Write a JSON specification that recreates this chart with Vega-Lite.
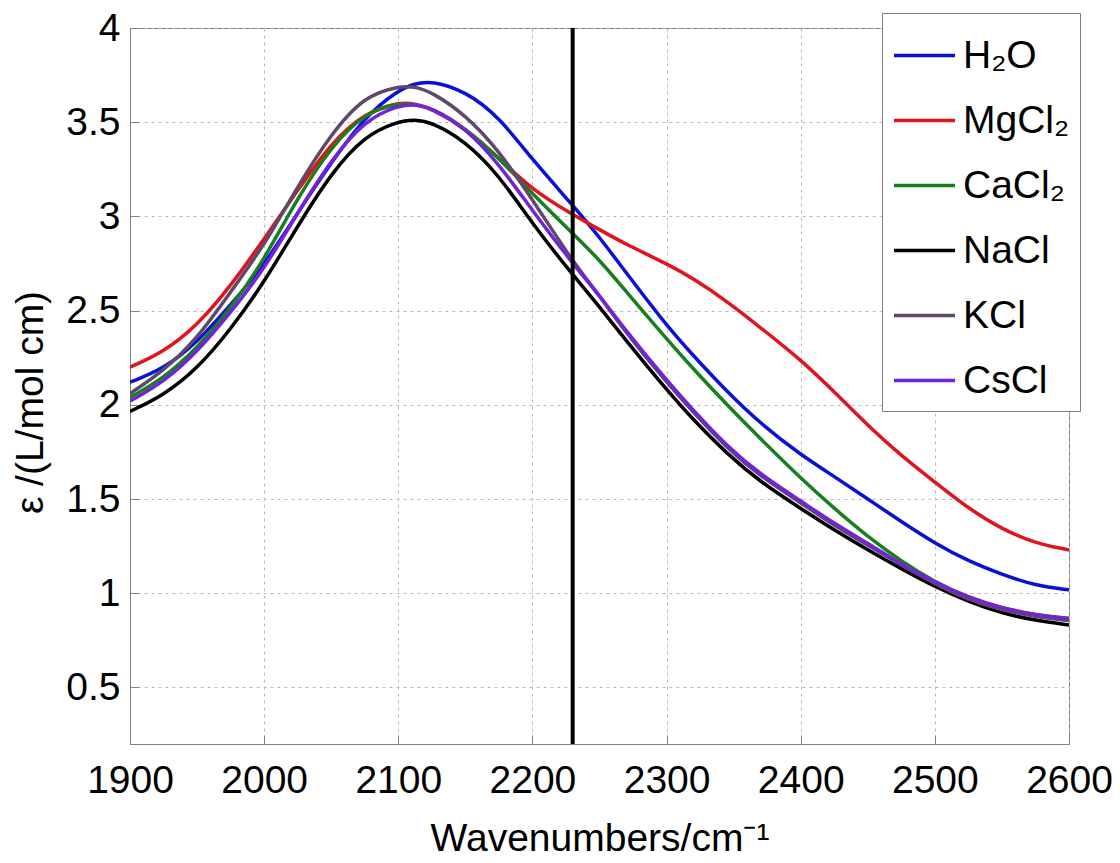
{
  "$schema": "https://vega.github.io/schema/vega-lite/v6.json",
  "autosize": {"type": "none"},
  "width": 939,
  "height": 716,
  "padding": {"left": 130, "top": 28, "right": 51, "bottom": 119},
  "background": "white",
  "config": {
    "font": "Liberation Sans",
    "view": {"stroke": "#808080", "strokeWidth": 1},
    "axis": {
      "labelFont": "Liberation Sans",
      "titleFont": "Liberation Sans",
      "labelColor": "#000000",
      "titleColor": "#000000",
      "labelFontSize": 39,
      "titleFontSize": 39,
      "titleFontWeight": "normal",
      "domainColor": "#808080",
      "tickColor": "#808080",
      "tickSize": -9,
      "labelFlush": false,
      "labelOverlap": false,
      "grid": true,
      "gridColor": "#b8b8b8",
      "gridDash": [3, 4],
      "gridWidth": 1
    },
    "legend": {
      "labelFont": "Liberation Sans",
      "labelFontSize": 39,
      "labelColor": "#000000"
    }
  },
  "datasets": {
    "spectra": [
      {"s":"H₂O","x":1900,"y":2.12},{"s":"H₂O","x":1925,"y":2.19},{"s":"H₂O","x":1950,"y":2.33},{"s":"H₂O","x":1975,"y":2.53},{"s":"H₂O","x":2000,"y":2.74},{"s":"H₂O","x":2025,"y":3.02},{"s":"H₂O","x":2050,"y":3.285},{"s":"H₂O","x":2075,"y":3.53},{"s":"H₂O","x":2100,"y":3.67},{"s":"H₂O","x":2112,"y":3.705},{"s":"H₂O","x":2125,"y":3.72},{"s":"H₂O","x":2150,"y":3.665},{"s":"H₂O","x":2175,"y":3.53},{"s":"H₂O","x":2200,"y":3.3},{"s":"H₂O","x":2230,"y":3.06},{"s":"H₂O","x":2250,"y":2.89},{"s":"H₂O","x":2270,"y":2.7},{"s":"H₂O","x":2300,"y":2.42},{"s":"H₂O","x":2320,"y":2.26},{"s":"H₂O","x":2345,"y":2.07},{"s":"H₂O","x":2370,"y":1.9},{"s":"H₂O","x":2400,"y":1.735},{"s":"H₂O","x":2425,"y":1.62},{"s":"H₂O","x":2450,"y":1.5},{"s":"H₂O","x":2475,"y":1.38},{"s":"H₂O","x":2500,"y":1.265},{"s":"H₂O","x":2525,"y":1.17},{"s":"H₂O","x":2550,"y":1.1},{"s":"H₂O","x":2575,"y":1.04},{"s":"H₂O","x":2600,"y":1.018},
      {"s":"MgCl₂","x":1900,"y":2.2},{"s":"MgCl₂","x":1925,"y":2.28},{"s":"MgCl₂","x":1950,"y":2.42},{"s":"MgCl₂","x":1975,"y":2.63},{"s":"MgCl₂","x":2000,"y":2.88},{"s":"MgCl₂","x":2025,"y":3.14},{"s":"MgCl₂","x":2050,"y":3.39},{"s":"MgCl₂","x":2075,"y":3.55},{"s":"MgCl₂","x":2100,"y":3.605},{"s":"MgCl₂","x":2112,"y":3.6},{"s":"MgCl₂","x":2125,"y":3.57},{"s":"MgCl₂","x":2150,"y":3.47},{"s":"MgCl₂","x":2175,"y":3.31},{"s":"MgCl₂","x":2200,"y":3.14},{"s":"MgCl₂","x":2230,"y":3.01},{"s":"MgCl₂","x":2250,"y":2.93},{"s":"MgCl₂","x":2270,"y":2.85},{"s":"MgCl₂","x":2300,"y":2.75},{"s":"MgCl₂","x":2320,"y":2.67},{"s":"MgCl₂","x":2345,"y":2.55},{"s":"MgCl₂","x":2370,"y":2.41},{"s":"MgCl₂","x":2400,"y":2.24},{"s":"MgCl₂","x":2425,"y":2.07},{"s":"MgCl₂","x":2450,"y":1.89},{"s":"MgCl₂","x":2475,"y":1.73},{"s":"MgCl₂","x":2500,"y":1.59},{"s":"MgCl₂","x":2525,"y":1.45},{"s":"MgCl₂","x":2550,"y":1.34},{"s":"MgCl₂","x":2575,"y":1.265},{"s":"MgCl₂","x":2600,"y":1.23},
      {"s":"CaCl₂","x":1900,"y":2.04},{"s":"CaCl₂","x":1925,"y":2.14},{"s":"CaCl₂","x":1950,"y":2.3},{"s":"CaCl₂","x":1975,"y":2.51},{"s":"CaCl₂","x":2000,"y":2.77},{"s":"CaCl₂","x":2025,"y":3.1},{"s":"CaCl₂","x":2050,"y":3.37},{"s":"CaCl₂","x":2075,"y":3.55},{"s":"CaCl₂","x":2100,"y":3.6},{"s":"CaCl₂","x":2112,"y":3.595},{"s":"CaCl₂","x":2125,"y":3.576},{"s":"CaCl₂","x":2150,"y":3.47},{"s":"CaCl₂","x":2175,"y":3.31},{"s":"CaCl₂","x":2200,"y":3.12},{"s":"CaCl₂","x":2230,"y":2.91},{"s":"CaCl₂","x":2250,"y":2.77},{"s":"CaCl₂","x":2270,"y":2.6},{"s":"CaCl₂","x":2300,"y":2.35},{"s":"CaCl₂","x":2320,"y":2.19},{"s":"CaCl₂","x":2345,"y":2.0},{"s":"CaCl₂","x":2370,"y":1.82},{"s":"CaCl₂","x":2400,"y":1.61},{"s":"CaCl₂","x":2425,"y":1.45},{"s":"CaCl₂","x":2450,"y":1.3},{"s":"CaCl₂","x":2475,"y":1.17},{"s":"CaCl₂","x":2500,"y":1.06},{"s":"CaCl₂","x":2525,"y":0.975},{"s":"CaCl₂","x":2550,"y":0.92},{"s":"CaCl₂","x":2575,"y":0.885},{"s":"CaCl₂","x":2600,"y":0.867},
      {"s":"NaCl","x":1900,"y":1.965},{"s":"NaCl","x":1925,"y":2.05},{"s":"NaCl","x":1950,"y":2.19},{"s":"NaCl","x":1975,"y":2.4},{"s":"NaCl","x":2000,"y":2.65},{"s":"NaCl","x":2025,"y":2.95},{"s":"NaCl","x":2050,"y":3.23},{"s":"NaCl","x":2075,"y":3.43},{"s":"NaCl","x":2100,"y":3.505},{"s":"NaCl","x":2112,"y":3.515},{"s":"NaCl","x":2125,"y":3.5},{"s":"NaCl","x":2150,"y":3.4},{"s":"NaCl","x":2175,"y":3.22},{"s":"NaCl","x":2200,"y":2.96},{"s":"NaCl","x":2230,"y":2.69},{"s":"NaCl","x":2250,"y":2.52},{"s":"NaCl","x":2270,"y":2.34},{"s":"NaCl","x":2300,"y":2.08},{"s":"NaCl","x":2320,"y":1.92},{"s":"NaCl","x":2345,"y":1.74},{"s":"NaCl","x":2370,"y":1.59},{"s":"NaCl","x":2400,"y":1.45},{"s":"NaCl","x":2425,"y":1.336},{"s":"NaCl","x":2450,"y":1.23},{"s":"NaCl","x":2475,"y":1.13},{"s":"NaCl","x":2500,"y":1.035},{"s":"NaCl","x":2525,"y":0.956},{"s":"NaCl","x":2550,"y":0.894},{"s":"NaCl","x":2575,"y":0.855},{"s":"NaCl","x":2600,"y":0.832},
      {"s":"KCl","x":1900,"y":2.06},{"s":"KCl","x":1925,"y":2.18},{"s":"KCl","x":1950,"y":2.35},{"s":"KCl","x":1975,"y":2.6},{"s":"KCl","x":2000,"y":2.845},{"s":"KCl","x":2025,"y":3.16},{"s":"KCl","x":2050,"y":3.44},{"s":"KCl","x":2075,"y":3.64},{"s":"KCl","x":2100,"y":3.69},{"s":"KCl","x":2112,"y":3.69},{"s":"KCl","x":2125,"y":3.66},{"s":"KCl","x":2150,"y":3.54},{"s":"KCl","x":2175,"y":3.35},{"s":"KCl","x":2200,"y":3.09},{"s":"KCl","x":2230,"y":2.76},{"s":"KCl","x":2250,"y":2.58},{"s":"KCl","x":2270,"y":2.38},{"s":"KCl","x":2300,"y":2.12},{"s":"KCl","x":2320,"y":1.96},{"s":"KCl","x":2345,"y":1.77},{"s":"KCl","x":2370,"y":1.62},{"s":"KCl","x":2400,"y":1.48},{"s":"KCl","x":2425,"y":1.36},{"s":"KCl","x":2450,"y":1.255},{"s":"KCl","x":2475,"y":1.15},{"s":"KCl","x":2500,"y":1.05},{"s":"KCl","x":2525,"y":0.965},{"s":"KCl","x":2550,"y":0.91},{"s":"KCl","x":2575,"y":0.875},{"s":"KCl","x":2600,"y":0.855},
      {"s":"CsCl","x":1900,"y":2.02},{"s":"CsCl","x":1925,"y":2.12},{"s":"CsCl","x":1950,"y":2.28},{"s":"CsCl","x":1975,"y":2.49},{"s":"CsCl","x":2000,"y":2.72},{"s":"CsCl","x":2025,"y":3.02},{"s":"CsCl","x":2050,"y":3.3},{"s":"CsCl","x":2075,"y":3.51},{"s":"CsCl","x":2100,"y":3.59},{"s":"CsCl","x":2112,"y":3.595},{"s":"CsCl","x":2125,"y":3.576},{"s":"CsCl","x":2150,"y":3.47},{"s":"CsCl","x":2175,"y":3.28},{"s":"CsCl","x":2200,"y":3.03},{"s":"CsCl","x":2230,"y":2.75},{"s":"CsCl","x":2250,"y":2.58},{"s":"CsCl","x":2270,"y":2.39},{"s":"CsCl","x":2300,"y":2.13},{"s":"CsCl","x":2320,"y":1.97},{"s":"CsCl","x":2345,"y":1.78},{"s":"CsCl","x":2370,"y":1.63},{"s":"CsCl","x":2400,"y":1.49},{"s":"CsCl","x":2425,"y":1.37},{"s":"CsCl","x":2450,"y":1.265},{"s":"CsCl","x":2475,"y":1.155},{"s":"CsCl","x":2500,"y":1.058},{"s":"CsCl","x":2525,"y":0.978},{"s":"CsCl","x":2550,"y":0.922},{"s":"CsCl","x":2575,"y":0.885},{"s":"CsCl","x":2600,"y":0.865}
    ],
    "marker": [{"x": 2230}]
  },
  "layer": [
    {
      "data": {"name": "spectra"},
      "mark": {"type": "line", "interpolate": "basis", "strokeWidth": 3.5, "clip": true},
      "encoding": {
        "x": {
          "field": "x", "type": "quantitative",
          "scale": {"domain": [1900, 2600], "nice": false, "zero": false},
          "axis": {
            "title": "Wavenumbers/cm⁻¹",
            "values": [1900, 2000, 2100, 2200, 2300, 2400, 2500, 2600],
            "format": "d",
            "labelPadding": 26,
            "titleAnchor": "middle",
            "titleBaseline": "alphabetic",
            "titleY": 106
          }
        },
        "y": {
          "field": "y", "type": "quantitative",
          "scale": {"domain": [0.2, 4], "nice": false, "zero": false},
          "axis": {
            "title": "ε /(L/mol cm)",
            "values": [0.5, 1, 1.5, 2, 2.5, 3, 3.5, 4],
            "format": "~g",
            "labelPadding": 19,
            "titleAngle": -90,
            "titleAlign": "center",
            "titleBaseline": "middle",
            "titleX": -100,
            "titleY": 374
          }
        },
        "color": {
          "field": "s", "type": "nominal",
          "scale": {
            "domain": ["H₂O", "MgCl₂", "CaCl₂", "NaCl", "KCl", "CsCl"],
            "range": ["#0a10d8", "#e0141c", "#16801e", "#000000", "#5d4a6a", "#7422d8"]
          },
          "legend": {
            "title": null,
            "orient": "none",
            "legendX": 752,
            "legendY": -15,
            "direction": "vertical",
            "symbolType": "stroke",
            "symbolSize": 3721,
            "symbolStrokeWidth": 3.5,
            "labelOffset": 6,
            "rowPadding": 12,
            "padding": 10,
            "strokeColor": "#808080",
            "fillColor": "#ffffff",
            "labelLimit": 300
          }
        }
      }
    },
    {
      "data": {"name": "marker"},
      "mark": {"type": "rule", "color": "#000000", "strokeWidth": 4},
      "encoding": {
        "x": {"field": "x", "type": "quantitative"}
      }
    }
  ]
}
